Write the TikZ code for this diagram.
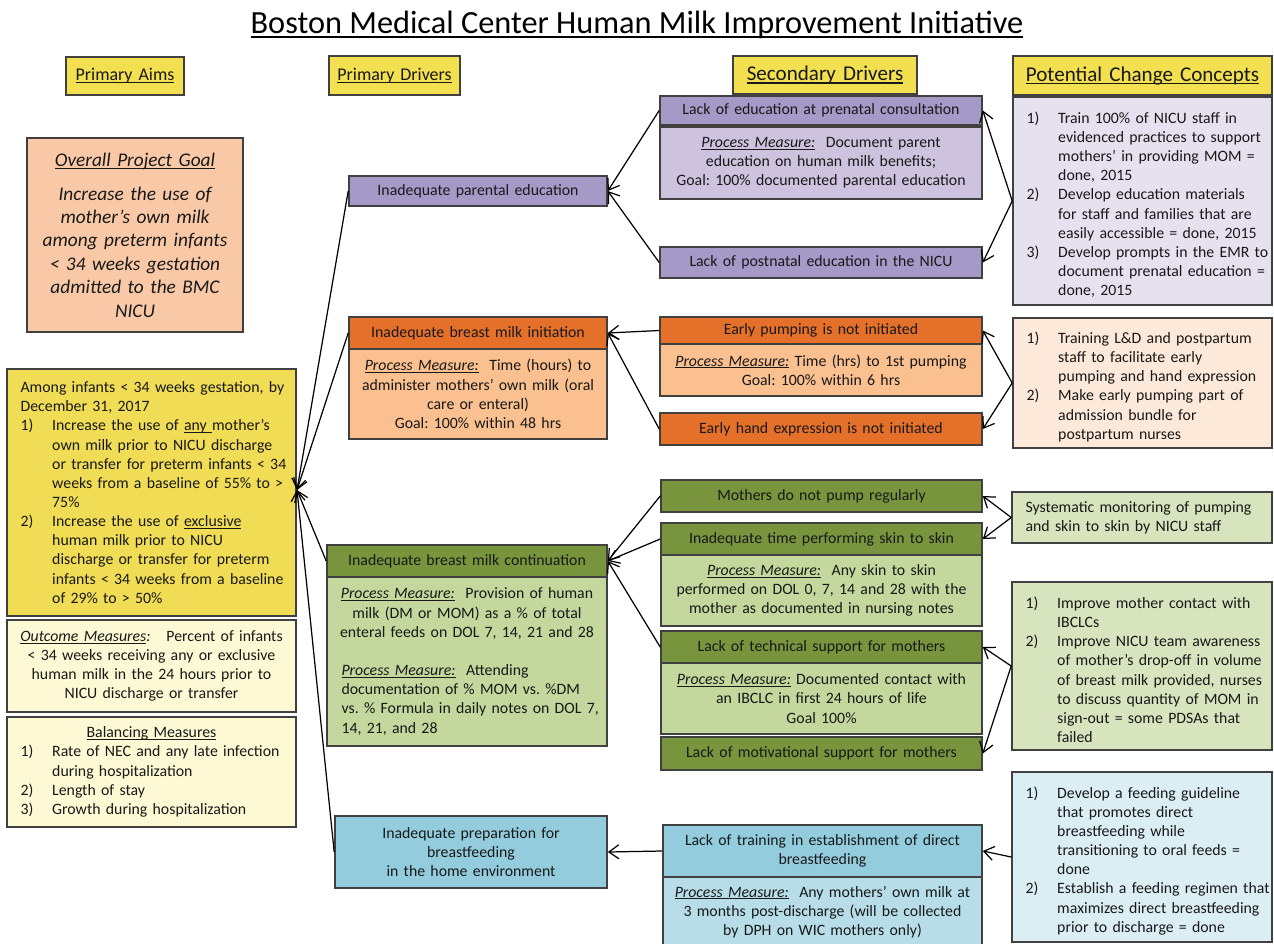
\documentclass[tikz,border=0pt]{standalone}
\usepackage{fontspec}
\setmainfont{Carlito}
\usetikzlibrary{arrows.meta}
\definecolor{hdrY}{HTML}{F2E050}
\definecolor{aimY}{HTML}{F0DC55}
\definecolor{goalP}{HTML}{F9C9A7}
\definecolor{ltY}{HTML}{FCF9D4}
\definecolor{purp}{HTML}{A599C8}
\definecolor{lpurp}{HTML}{CDC3DE}
\definecolor{lav}{HTML}{E6E1EE}
\definecolor{ora}{HTML}{E5702A}
\definecolor{pch}{HTML}{FAC08F}
\definecolor{lpch}{HTML}{FDE9D9}
\definecolor{dgr}{HTML}{78943C}
\definecolor{lgr}{HTML}{C4D79C}
\definecolor{cgr}{HTML}{D8E4BD}
\definecolor{blu}{HTML}{93CDDD}
\definecolor{lblu}{HTML}{B7DEE8}
\definecolor{cblu}{HTML}{DBEEF4}
\newcommand\mybox[8][0.08]{%
  \pgfmathsetmacro\cxx{(#3+#5)/2}%
  \pgfmathsetmacro\cyy{(#4+#6)/2}%
  \pgfmathsetmacro\ww{(#5-#3)*0.02}%
  \pgfmathsetmacro\hh{(#6-#4)*0.02}%
  \pgfmathsetmacro\tw{(#5-#3)*0.02-2*#1}%
  \node[box,#7,inner xsep=#1 cm,minimum width=\ww cm,minimum height=\hh cm,text width=\tw cm] (#2) at (\cxx,\cyy) {#8};}
\newsavebox\ulbx
\newcommand\ul[1]{\leavevmode\sbox\ulbx{#1}\rlap{\rule[-0.14em]{\wd\ulbx}{0.065em}}\usebox\ulbx}
\newcommand\pmeas{\ul{\textit{Process Measure:}}}
\newcommand\nl{\unskip\break}
\newcommand\itm[2]{\par\hangindent=18pt\hangafter=1\noindent\makebox[18pt][l]{#1}#2\par}
\newcommand\lst{\raggedright\leftskip=6.6pt\hyphenpenalty=10000\relax}
\frenchspacing
\begin{document}
\begin{tikzpicture}[x=0.02cm,y=-0.02cm,
  box/.style={draw=black!75,line width=0.9pt,inner ysep=0pt,
    font=\fontsize{9}{10.9}\selectfont\frenchspacing,text=black!90},
  ctr/.style={align=center},
  hdr/.style={fill=hdrY,ctr,font=\fontsize{12}{14}\selectfont},
  hdrs/.style={hdr,font=\fontsize{10.2}{12}\selectfont},
  arr/.style={-{Straight Barb[length=2mm,width=2.8mm]},line width=0.7pt,black}]
\useasboundingbox (0,0) rectangle (1274,943);
\fill[white] (0,0) rectangle (1274,943);
\node (title) at (637,25) {\fontsize{18.4}{22}\selectfont\ul{Boston Medical Center Human Milk Improvement Initiative}};
% headers
\mybox[0.02]{hA}{66}{57}{184}{95}{hdrs}{\ul{Primary Aims}}
\mybox[0.02]{hP}{329}{56}{460}{95}{hdrs}{\ul{Primary Drivers}}
\mybox{hS}{733}{56}{917}{94}{hdr}{\ul{Secondary Drivers}}
\mybox[0.02]{hC}{1013}{56}{1272}{95}{hdr}{\ul{Potential Change Concepts}}
% primary aims column
\mybox{goal}{27}{138}{243}{332}{fill=goalP,ctr,font=\fontsize{11}{13.3}\selectfont}{\ul{\textit{Overall Project Goal}}\\[6pt]\textit{Increase the use of\\ mother’s own milk\\ among preterm infants\\ < 34 weeks gestation\\ admitted to the BMC\\ NICU}}
\mybox[0.04]{aims}{7}{369}{296}{616}{fill=aimY}{\lst Among infants < 34 weeks gestation, by\nl December 31, 2017\par
\itm{1)}{Increase the use of \ul{any }mother’s\nl own milk prior to NICU discharge\nl or transfer for preterm infants < 34\nl weeks from a baseline of 55\% to >\nl 75\%}
\itm{2)}{Increase the use of \ul{exclusive}\nl human milk prior to NICU\nl discharge or transfer for preterm\nl infants < 34 weeks from a baseline\nl of 29\% to > 50\%}}
\mybox{outc}{7}{620}{296}{712}{fill=ltY,ctr}{\ul{\textit{Outcome Measures}}\textit{:}\ \ \ Percent of infants\\ < 34 weeks receiving any or exclusive\\ human milk in the 24 hours prior to\\ NICU discharge or transfer}
\mybox[0.04]{bal}{7}{717}{296}{827}{fill=ltY}{{\centering\ul{Balancing Measures}\par}\lst
\itm{1)}{Rate of NEC and any late infection\nl during hospitalization}
\itm{2)}{Length of stay}
\itm{3)}{Growth during hospitalization}}
% primary drivers
\mybox{pd1}{349}{176}{607}{206}{fill=purp,ctr}{Inadequate parental education}
\mybox{pd2h}{349}{317}{607}{349}{fill=ora,ctr}{Inadequate breast milk initiation}
\mybox{pd2b}{349}{349}{607}{439}{fill=pch,ctr}{\pmeas\ \ Time (hours) to\\ administer mothers’ own milk (oral\\ care or enteral)\\ Goal: 100\% within 48 hrs}
\mybox{pd3h}{327}{545}{607}{577}{fill=dgr,ctr}{Inadequate breast milk continuation}
\mybox{pd3b}{327}{577}{607}{746}{fill=lgr}{{\centering\pmeas\ \ Provision of human\\ milk (DM or MOM) as a \% of total\\ enteral feeds on DOL 7, 14, 21 and 28\par}\vspace{10.9pt}
{\lst\leftskip=6pt \pmeas\ \ Attending\nl documentation of \% MOM vs. \%DM\nl vs. \% Formula in daily notes on DOL 7,\nl 14, 21, and 28\par}}
\mybox{pd4}{335}{816}{607}{888}{fill=blu,ctr}{Inadequate preparation for\\ breastfeeding\\ in the home environment}
% secondary drivers
\mybox{s1h}{660}{96}{982}{125}{fill=purp,ctr}{Lack of education at prenatal consultation}
\mybox{s1b}{660}{127}{982}{199}{fill=lpurp,ctr}{\pmeas\ \ Document parent\\ education on human milk benefits;\\ Goal: 100\% documented parental education}
\mybox{s2}{660}{247}{982}{278}{fill=purp,ctr}{Lack of postnatal education in the NICU}
\mybox{s3h}{660}{317}{982}{344}{fill=ora,ctr}{Early pumping is not initiated}
\mybox{s3b}{660}{344}{982}{396}{fill=pch,ctr}{\pmeas\ Time (hrs) to 1st pumping\\ Goal: 100\% within 6 hrs}
\mybox{s4}{660}{413}{982}{445}{fill=ora,ctr}{Early hand expression is not initiated}
\mybox{s5}{661}{480}{982}{512}{fill=dgr,ctr}{Mothers do not pump regularly}
\mybox{s6h}{661}{523}{982}{555}{fill=dgr,ctr}{Inadequate time performing skin to skin}
\mybox{s6b}{661}{555}{982}{626}{fill=lgr,ctr}{\pmeas\ \ Any skin to skin\\ performed on DOL 0, 7, 14 and 28 with the\\ mother as documented in nursing notes}
\mybox{s7h}{661}{631}{982}{663}{fill=dgr,ctr}{Lack of technical support for mothers}
\mybox{s7b}{661}{663}{982}{734}{fill=lgr,ctr}{\pmeas\ Documented contact with\\ an IBCLC in first 24 hours of life\\ Goal 100\%}
\mybox{s8}{661}{737}{982}{770}{fill=dgr,ctr}{Lack of motivational support for mothers}
\mybox{s9h}{663}{825}{982}{877}{fill=blu,ctr}{Lack of training in establishment of direct\\ breastfeeding}
\mybox{s9b}{663}{877}{982}{947}{fill=lblu,ctr}{\pmeas\ \ Any mothers’ own milk at\\ 3 months post-discharge (will be collected\\ by DPH on WIC mothers only)}
% change concepts
\mybox[0.04]{c1}{1013}{97}{1272}{305}{fill=lav}{\lst
\itm{1)}{Train 100\% of NICU staff in\nl evidenced practices to support\nl mothers’ in providing MOM =\nl done, 2015}
\itm{2)}{Develop education materials\nl for staff and families that are\nl easily accessible = done, 2015}
\itm{3)}{Develop prompts in the EMR to\nl document prenatal education =\nl done, 2015}}
\mybox[0.04]{c2}{1013}{318}{1272}{448}{fill=lpch}{\lst
\itm{1)}{Training L\&D and postpartum\nl staff to facilitate early\nl pumping and hand expression}
\itm{2)}{Make early pumping part of\nl admission bundle for\nl postpartum nurses}}
\mybox[0.04]{c3}{1012}{492}{1272}{543}{fill=cgr}{\lst Systematic monitoring of pumping\nl and skin to skin by NICU staff\par}
\mybox[0.04]{c4}{1012}{582}{1272}{750}{fill=cgr}{\lst
\itm{1)}{Improve mother contact with\nl IBCLCs}
\itm{2)}{Improve NICU team awareness\nl of mother’s drop-off in volume\nl of breast milk provided, nurses\nl to discuss quantity of MOM in\nl sign-out = some PDSAs that\nl failed}}
\mybox[0.04]{c5}{1012}{772}{1272}{942}{fill=cblu}{\lst
\itm{1)}{Develop a feeding guideline\nl that promotes direct\nl breastfeeding while\nl transitioning to oral feeds =\nl done}
\itm{2)}{Establish a feeding regimen that\nl maximizes direct breastfeeding\nl prior to discharge = done}}
% connectors
\coordinate (aimP) at (297,490);
\foreach \n in {pd1,pd2h,pd3h,pd4} \draw[arr] (\n.west) -- (aimP);
\draw[arr] (s1h.west) -- (pd1.east);
\draw[arr] (s2.west) -- (pd1.east);
\draw[arr] (s3h.west) -- (pd2h.east);
\draw[arr] (s4.west) -- (pd2h.east);
\draw[arr] (s5.west) -- (pd3h.east);
\draw[arr] (s6h.west) -- (pd3h.east);
\draw[arr] (s7h.west) -- (pd3h.east);
\draw[arr] (s9h.west) -- (pd4.east);
\draw[arr] (c1.west) -- (s1h.east);
\draw[arr] (c1.west) -- (s2.east);
\draw[arr] (c2.west) -- (s3h.east);
\draw[arr] (c2.west) -- (s4.east);
\draw[arr] (c3.west) -- (s5.east);
\draw[arr] (c3.west) -- (s6h.east);
\draw[arr] (c4.west) -- (s7h.east);
\draw[arr] (c4.west) -- (s8.east);
\draw[arr] (c5.west) -- (s9h.east);
\end{tikzpicture}
\end{document}
